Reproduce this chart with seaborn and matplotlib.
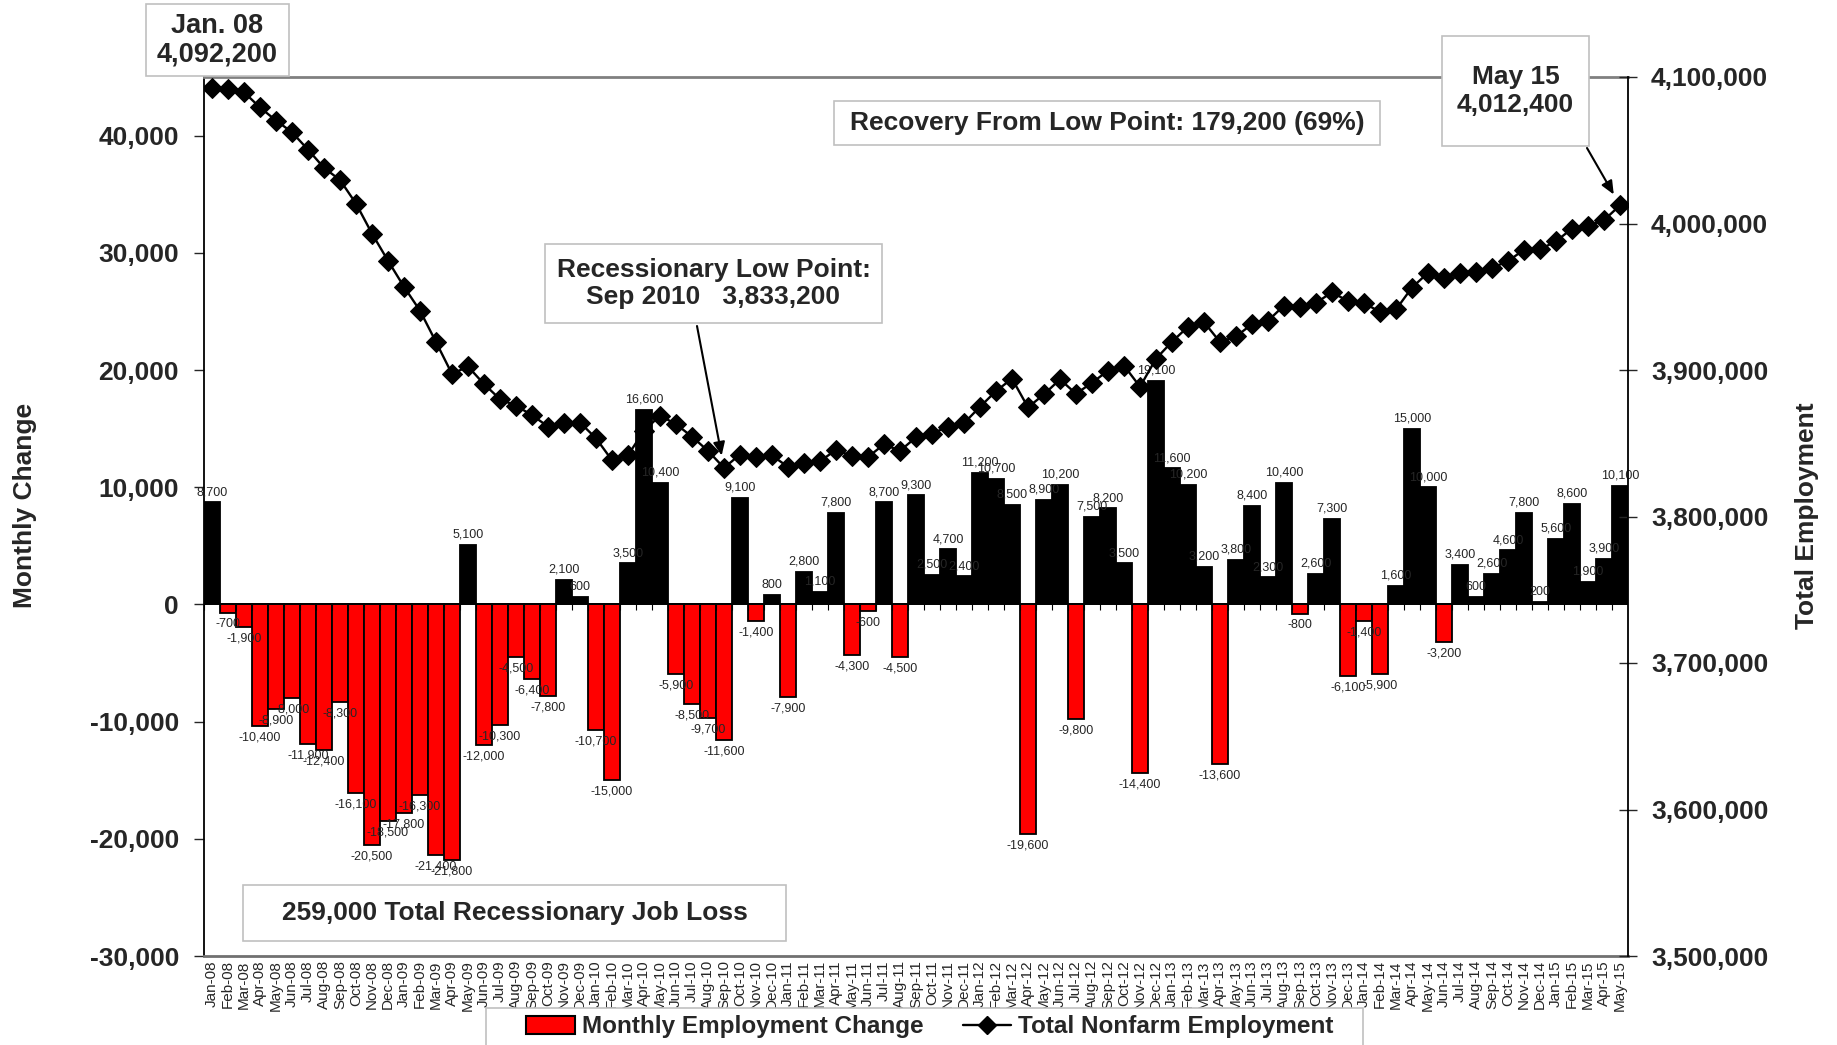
import numpy as np
import pandas as pd
import matplotlib
matplotlib.use("Agg")
import matplotlib.pyplot as plt
import seaborn as sns
from matplotlib.patches import Rectangle, Patch
from matplotlib.lines import Line2D

# ---------------- data ----------------
months = [
    "Jan-08", "Feb-08", "Mar-08", "Apr-08", "May-08", "Jun-08", "Jul-08", "Aug-08", "Sep-08", "Oct-08", "Nov-08", "Dec-08",
    "Jan-09", "Feb-09", "Mar-09", "Apr-09", "May-09", "Jun-09", "Jul-09", "Aug-09", "Sep-09", "Oct-09", "Nov-09", "Dec-09",
    "Jan-10", "Feb-10", "Mar-10", "Apr-10", "May-10", "Jun-10", "Jul-10", "Aug-10", "Sep-10", "Oct-10", "Nov-10", "Dec-10",
    "Jan-11", "Feb-11", "Mar-11", "Apr-11", "May-11", "Jun-11", "Jul-11", "Aug-11", "Sep-11", "Oct-11", "Nov-11", "Dec-11",
    "Jan-12", "Feb-12", "Mar-12", "Apr-12", "May-12", "Jun-12", "Jul-12", "Aug-12", "Sep-12", "Oct-12", "Nov-12", "Dec-12",
    "Jan-13", "Feb-13", "Mar-13", "Apr-13", "May-13", "Jun-13", "Jul-13", "Aug-13", "Sep-13", "Oct-13", "Nov-13", "Dec-13",
    "Jan-14", "Feb-14", "Mar-14", "Apr-14", "May-14", "Jun-14", "Jul-14", "Aug-14", "Sep-14", "Oct-14", "Nov-14", "Dec-14",
    "Jan-15", "Feb-15", "Mar-15", "Apr-15", "May-15",
]

monthly_change = [
    8700, -700, -1900, -10400, -8900, -8000, -11900, -12400, -8300, -16100, -20500, -18500,
    -17800, -16300, -21400, -21800, 5100, -12000, -10300, -4500, -6400, -7800, 2100, 600,
    -10700, -15000, 3500, 16600, 10400, -5900, -8500, -9700, -11600, 9100, -1400, 800,
    -7900, 2800, 1100, 7800, -4300, -600, 8700, -4500, 9300, 2500, 4700, 2400,
    11200, 10700, 8500, -19600, 8900, 10200, -9800, 7500, 8200, 3500, -14400, 19100,
    11600, 10200, 3200, -13600, 3800, 8400, 2300, 10400, -800, 2600, 7300, -6100,
    -1400, -5900, 1600, 15000, 10000, -3200, 3400, 600, 2600, 4600, 7800, 200,
    5600, 8600, 1900, 3900, 10100,
]

total_employment = [
    4092200, 4091500, 4089600, 4079200, 4070300, 4062300, 4050400, 4038000, 4029700, 4013600, 3993100, 3974600,
    3956800, 3940500, 3919100, 3897300, 3902400, 3890400, 3880100, 3875600, 3869200, 3861400, 3863500, 3864100,
    3853400, 3838400, 3841900, 3858500, 3868900, 3863000, 3854500, 3844800, 3833200, 3842300, 3840900, 3841700,
    3833800, 3836600, 3837700, 3845500, 3841200, 3840600, 3849300, 3844800, 3854100, 3856600, 3861300, 3863700,
    3874900, 3885600, 3894100, 3874500, 3883400, 3893600, 3883800, 3891300, 3899500, 3903000, 3888600, 3907700,
    3919300, 3929500, 3932700, 3919100, 3922900, 3931300, 3933600, 3944000, 3943200, 3945800, 3953100, 3947000,
    3945600, 3939700, 3941300, 3956300, 3966300, 3963100, 3966500, 3967100, 3969700, 3974300, 3982100, 3982300,
    3987900, 3996500, 3998400, 4002300, 4012400,
]

left_ticks = [-30000, -20000, -10000, 0, 10000, 20000, 30000, 40000]
right_ticks = [3500000, 3600000, 3700000, 3800000, 3900000, 4000000, 4100000]

# ---------------- style ----------------
sns.set_style("white")
plt.rcParams["font.family"] = ["Liberation Sans", "DejaVu Sans"]

W, H = 1837, 1045
fig = plt.figure(figsize=(W / 100, H / 100), dpi=100)
ax = fig.add_axes([204 / W, 1 - 956 / H, (1628 - 204) / W, (956 - 77) / H])
ax2 = ax.twinx()

df = pd.DataFrame({
    "month": months,
    "change": monthly_change,
    "sign": ["pos" if v >= 0 else "neg" for v in monthly_change],
})

sns.barplot(data=df, x="month", y="change", hue="sign", order=months,
            palette={"pos": "black", "neg": "#FF0000"}, dodge=False, width=1.0,
            saturation=1, edgecolor="black", linewidth=1.3, legend=False, ax=ax, zorder=2)

sns.lineplot(x=np.arange(len(total_employment)), y=total_employment, ax=ax2,
             color="black", lw=1.7, marker="D", markersize=10, markeredgecolor="black",
             zorder=5)

ax.set_xlim(-0.5, len(months) - 0.5)
ax.set_ylim(-30000, 45000)
ax2.set_ylim(3500000, 4100000)

ax.axhline(0, color="black", lw=1.3, zorder=3)
ax.vlines(np.arange(len(months)) - 0.5, -500, 0, color="black", lw=0.8, zorder=3)

# data labels
for i, v in enumerate(monthly_change):
    ax.annotate(f"{v:,}", (i, v), xytext=(0, 3 if v >= 0 else -4), textcoords="offset points",
                ha="center", va="bottom" if v >= 0 else "top", fontsize=9, zorder=4)

# ticks
ax.set_yticks(left_ticks)
ax.set_yticklabels([f"{t:,}" for t in left_ticks], fontsize=19, fontweight="bold")
ax.set_xticks(np.arange(len(months)))
ax.set_xticklabels(months, rotation=90, fontsize=11)
ax.tick_params(axis="x", length=0, pad=3)
ax.tick_params(axis="y", direction="out", length=7, width=1, pad=11, left=True)

ax2.set_yticks(right_ticks)
ax2.set_yticklabels([f"{t:,}" for t in right_ticks], fontsize=19, fontweight="bold")
ax2.tick_params(axis="y", direction="inout", length=13, width=1, pad=10, right=True)

ax.set_xlabel("")
ax.set_ylabel("")
ax2.set_xlabel("")
ax2.set_ylabel("")

# spines
for a in (ax, ax2):
    for s in a.spines.values():
        s.set_visible(False)
ax.spines["top"].set_visible(True)
ax.spines["top"].set_color("#808080")
ax.spines["top"].set_linewidth(2)
ax.spines["bottom"].set_visible(True)
ax.spines["bottom"].set_color("#707070")
ax.spines["bottom"].set_linewidth(2)
ax.spines["left"].set_visible(True)
ax.spines["left"].set_color("black")
ax.spines["left"].set_linewidth(1.3)
ax2.spines["right"].set_visible(True)
ax2.spines["right"].set_color("black")
ax2.spines["right"].set_linewidth(1.3)

# axis titles
fig.text(25 / W, 1 - 505 / H, "Monthly Change", rotation=90, ha="center", va="center",
         fontsize=19, fontweight="bold")
fig.text(1807 / W, 1 - 516 / H, "Total Employment", rotation=90, ha="center", va="center",
         fontsize=19, fontweight="bold")


def frame(x0, y0, x1, y1):
    rect = Rectangle((x0 / W, 1 - y1 / H), (x1 - x0) / W, (y1 - y0) / H,
                     transform=fig.transFigure, fc="white", ec="#c0c0c0", lw=1.2, zorder=6)
    fig.add_artist(rect)


def box(x0, y0, x1, y1, text, size=19, ls=1.15):
    frame(x0, y0, x1, y1)
    fig.text((x0 + x1) / 2 / W, 1 - (y0 + y1) / 2 / H, text, ha="center", va="center",
             fontsize=size, fontweight="bold", zorder=7, linespacing=ls)


box(146, 4, 289, 76, "Jan. 08\n4,092,200", size=19.5, ls=1.1)
box(1442, 36, 1589, 146, "May 15\n4,012,400", size=19, ls=1.2)
box(834, 101, 1380, 145, "Recovery From Low Point: 179,200 (69%)")
box(545, 244, 882, 323, "Recessionary Low Point:\nSep 2010   3,833,200", ls=1.2)
box(243, 885, 786, 941, "259,000 Total Recessionary Job Loss")

arrow = dict(arrowstyle="-|>,head_length=0.8,head_width=0.35", color="black", lw=1.5,
             shrinkA=0, shrinkB=9)
ax2.annotate("", xy=(88, total_employment[88]), xycoords="data",
             xytext=(1587 / W, 1 - 148 / H), textcoords="figure fraction", arrowprops=arrow, zorder=8)
ax2.annotate("", xy=(32, total_employment[32]), xycoords="data",
             xytext=(697 / W, 1 - 326 / H), textcoords="figure fraction", arrowprops=arrow, zorder=8)

# legend (frame drawn separately so it runs off the bottom like the reference)
frame(486, 1008, 1363, 1070)
handles = [
    Patch(facecolor="#FF0000", edgecolor="black", lw=1.5, label="Monthly Employment Change"),
    Line2D([0], [0], color="black", lw=1.7, marker="D", markersize=9, label="Total Nonfarm Employment"),
]
leg = fig.legend(handles=handles, loc="center", bbox_to_anchor=(930 / W, 1 - 1027 / H), ncol=2,
                 frameon=False, prop=dict(weight="bold", size=17.5),
                 handlelength=2.0, handleheight=0.7, columnspacing=1.6, borderpad=0.0,
                 borderaxespad=0.0, handletextpad=0.3)
leg.set_zorder(8)

fig.savefig("out.png", dpi=100)
